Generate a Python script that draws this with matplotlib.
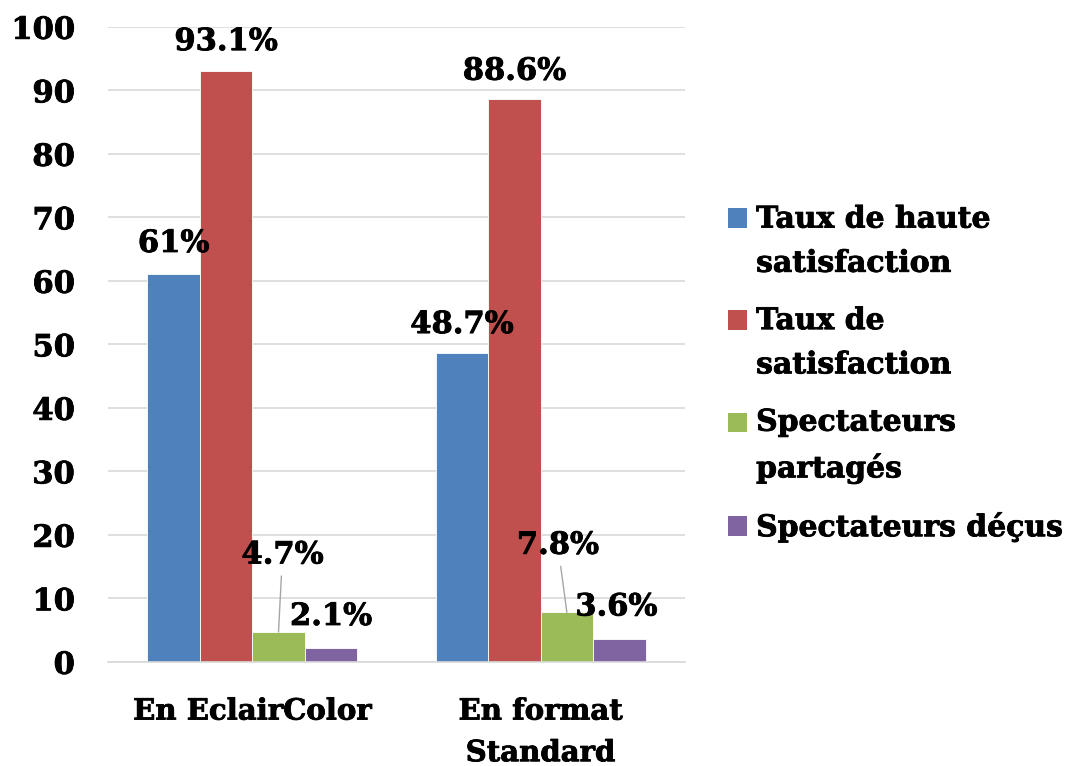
import matplotlib
matplotlib.use("Agg")
import matplotlib.pyplot as plt
import matplotlib.patheffects as pe
from matplotlib.patches import Patch, Rectangle
from matplotlib.legend_handler import HandlerPatch
import numpy as np

# data
categories = ["En EclairColor", "En format\nStandard"]
series_names = ["Taux de haute\nsatisfaction", "Taux de\nsatisfaction",
                "Spectateurs\npartagés", "Spectateurs déçus"]
haute = [61, 48.7]
satisf = [93.1, 88.6]
partages = [4.7, 7.8]
decus = [2.1, 3.6]
value_labels = [["61%", "48.7%"], ["93.1%", "88.6%"], ["4.7%", "7.8%"], ["2.1%", "3.6%"]]
colors = ["#4F81BD", "#C0504D", "#9BBB59", "#8064A2"]

plt.rcParams['font.family'] = ['DejaVu Serif']
plt.rcParams['font.weight'] = 'bold'

# slight stroke to get a heavier look like the original font
heavy = [pe.withStroke(linewidth=0.6, foreground='black')]


class FirstLineHandler(HandlerPatch):
    """square marker lined up with the first line of a wrapped label"""
    def __init__(self, shift):
        super().__init__()
        self.shift = shift

    def create_artists(self, legend, orig_handle, xdescent, ydescent,
                       width, height, fontsize, trans):
        p = Rectangle((-xdescent, -ydescent + self.shift), width, height)
        self.update_prop(p, orig_handle, legend)
        p.set_transform(trans)
        return [p]


fig = plt.figure(figsize=(10.7, 7.66), dpi=100)
ax = fig.add_axes([0.101, 0.136, 0.539, 0.829])

x = np.arange(len(categories))
width = 0.182
all_series = [haute, satisf, partages, decus]

# label offsets in pixels (dx, dy) relative to the top of each bar
offsets = [[(0, 31), (0, 28)], [(0, 29), (0, 28)], [(4, 77), (-9, 67)], [(0, 32), (-3, 32)]]

for i, vals in enumerate(all_series):
    pos = x + (i - 1.5) * width
    ax.bar(pos, vals, width, color=colors[i], edgecolor='white', linewidth=0.6, zorder=2)
    for j, v in enumerate(vals):
        dx, dy = offsets[i][j]
        arrow = None
        if i == 2:
            arrow = dict(arrowstyle='-', color='#a6a6a6', lw=1, shrinkA=2, shrinkB=0)
        t = ax.annotate(value_labels[i][j], xy=(pos[j], v), xytext=(dx, dy),
                        textcoords='offset pixels', ha='center', va='center',
                        fontsize=22, fontweight='bold', arrowprops=arrow)
        t.set_path_effects(heavy)

ax.set_xlim(-0.5, 1.5)
ax.set_ylim(0, 100)
ax.set_yticks(range(0, 101, 10))
ax.set_xticks(x)
ax.set_xticklabels(categories, fontsize=21, fontweight='bold', linespacing=1.55)
ax.tick_params(axis='y', labelsize=22, length=0, pad=24)
ax.tick_params(axis='x', length=0, pad=25)
for lab in ax.get_yticklabels() + ax.get_xticklabels():
    lab.set_fontweight('bold')
    lab.set_path_effects(heavy)
ax.grid(axis='y', color='#d9d9d9', linewidth=1.2, zorder=0)
ax.set_axisbelow(True)
for s in ['top', 'right', 'left']:
    ax.spines[s].set_visible(False)
ax.spines['bottom'].set_color('#d9d9d9')
ax.spines['bottom'].set_linewidth(1.2)

handles = [Patch(facecolor=c) for c in colors]
hmap = {}
for h, name in zip(handles, series_names):
    hmap[h] = FirstLineHandler(17.3 if "\n" in name else 0)
leg = fig.legend(handles, series_names, loc='upper left', bbox_to_anchor=(0.655, 0.768),
                 frameon=False, handlelength=0.65, handleheight=0.65,
                 handletextpad=0.3, labelspacing=0.95, handler_map=hmap,
                 prop={'weight': 'bold', 'size': 21.5})
for t in leg.get_texts():
    t.set_linespacing(1.66)
    t.set_path_effects(heavy)

fig.savefig("out.png", dpi=100)
